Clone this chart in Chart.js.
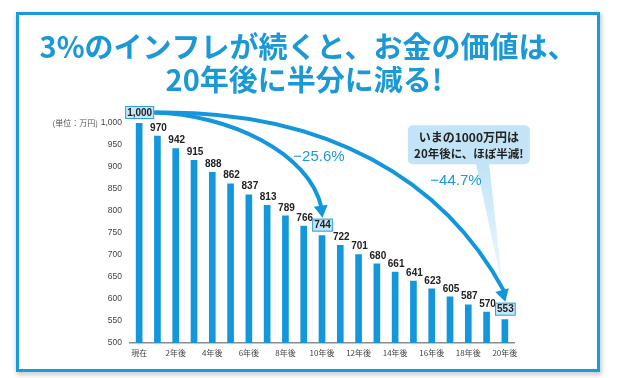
<!DOCTYPE html>
<html><head><meta charset="utf-8">
<script src="https://cdn.jsdelivr.net/npm/chart.js@4"></script>
<style>html,body{margin:0;padding:0;background:#fff}#wrap{position:relative;width:622px;height:378px}</style>
</head><body><div id="wrap"><canvas id="c" width="622" height="378"></canvas></div>
<script>
const titleLines = ['3%のインフレが続くと、お金の価値は、', '20年後に半分に減る!'];
const categories = ['現在','1年後','2年後','3年後','4年後','5年後','6年後','7年後','8年後','9年後','10年後',
  '11年後','12年後','13年後','14年後','15年後','16年後','17年後','18年後','19年後','20年後'];
const values = [1000, 970, 942, 915, 888, 862, 837, 813, 789, 766, 744, 722, 701, 680, 661, 641, 623, 605, 587, 570, 553];
const highlighted = [0, 10, 20];
const unitLabel = '(単位：万円)';
const arrowTargets = [10, 20];
const arrowLabels = ['−25.6%', '−44.7%'];
const calloutLines = ['いまの1000万円は', '20年後に、ほぼ半減!'];
const yMin = 500, yMax = 1000, yStep = 50;

const BLUE = '#1396dc';
const fmt = v => v.toLocaleString('en-US');

function boxFor(ctx, bar, i) {
  ctx.font = 'bold 10px "Liberation Sans", Arial, sans-serif';
  const t = fmt(values[i]);
  const w = ctx.measureText(t).width + 4;
  const h = 13;
  const cx = bar.x + 0.5, cy = bar.y - 10.5;
  return {t, x: cx - w / 2, y: cy - h / 2, w, h, cx, cy};
}

function arrowHead(ctx, tipX, tipY, angle, len, half) {
  ctx.save();
  ctx.translate(tipX, tipY);
  ctx.rotate(angle);
  ctx.beginPath();
  ctx.moveTo(0, 0);
  ctx.lineTo(-len, -half);
  ctx.lineTo(-len, half);
  ctx.closePath();
  ctx.fillStyle = BLUE;
  ctx.fill();
  ctx.restore();
}

const framePlugin = {
  id: 'frame',
  beforeDraw(chart) {
    const ctx = chart.ctx;
    ctx.save();
    ctx.fillStyle = '#fff';
    ctx.fillRect(0, 0, 622, 378);
    ctx.shadowColor = 'rgba(0,0,0,0.35)';
    ctx.shadowBlur = 5;
    ctx.shadowOffsetX = 1;
    ctx.shadowOffsetY = 2;
    ctx.strokeStyle = '#1a9ad9';
    ctx.lineWidth = 3;
    ctx.strokeRect(17.5, 13.5, 581, 357);
    ctx.shadowColor = 'transparent';
    ctx.fillStyle = '#fff';
    ctx.fillRect(19, 15, 578, 354);
    ctx.strokeRect(17.5, 13.5, 581, 357);
    // title
    ctx.fillStyle = '#1b98d6';
    ctx.font = 'bold 29px "Noto Sans CJK JP", sans-serif';
    ctx.textAlign = 'center';
    ctx.textBaseline = 'middle';
    ctx.fillText(titleLines[0], 308, 47);
    ctx.fillText(titleLines[1], 304, 80);
    ctx.restore();
  }
};

const annoPlugin = {
  id: 'anno',
  afterDatasetsDraw(chart) {
    const ctx = chart.ctx;
    const bars = chart.getDatasetMeta(0).data;
    const ys = chart.scales.y;
    ctx.save();
    // unit label
    ctx.fillStyle = '#555';
    ctx.font = '8px "Noto Sans CJK JP", sans-serif';
    ctx.textAlign = 'right';
    ctx.textBaseline = 'middle';
    ctx.fillText(unitLabel, 98, ys.getPixelForValue(yMax));

    // callout (behind arrows)
    const b20 = bars[20];
    const cl = b20.x - 97, cr = b20.x + 25, ct = ys.getPixelForValue(995), cb = ct + 39;
    const grad = ctx.createLinearGradient(0, cb, 0, cb + 130);
    grad.addColorStop(0, 'rgba(190,228,247,1)');
    grad.addColorStop(1, 'rgba(190,228,247,0.15)');
    ctx.fillStyle = grad;
    ctx.beginPath();
    ctx.moveTo(b20.x - 29, cb - 1);
    ctx.lineTo(b20.x - 16, cb - 1);
    ctx.lineTo(b20.x - 1, cb + 130);
    ctx.closePath();
    ctx.fill();
    ctx.fillStyle = '#c2e4f6';
    ctx.beginPath();
    ctx.roundRect(cl, ct, cr - cl, cb - ct, 5);
    ctx.fill();
    ctx.fillStyle = '#222';
    ctx.textAlign = 'center';
    ctx.font = 'bold 12px "Noto Sans CJK JP", sans-serif';
    ctx.fillText(calloutLines[0], (cl + cr) / 2, ct + 12);
    ctx.font = 'bold 11.5px "Noto Sans CJK JP", sans-serif';
    ctx.fillText(calloutLines[1], (cl + cr) / 2, ct + 28);

    // value labels
    bars.forEach((bar, i) => {
      if (highlighted.includes(i)) return;
      ctx.font = 'bold 10px "Liberation Sans", Arial, sans-serif';
      ctx.fillStyle = '#222';
      ctx.textAlign = 'center';
      ctx.textBaseline = 'middle';
      ctx.fillText(fmt(values[i]), bar.x + 1, bar.y - 8);
    });

    // arrows
    const b0 = boxFor(ctx, bars[0], 0);
    const sx = b0.x + b0.w, sy = b0.cy;
    ctx.strokeStyle = BLUE;
    ctx.lineWidth = 4;
    ctx.lineCap = 'butt';
    arrowTargets.forEach((ti, k) => {
      const bx = boxFor(ctx, bars[ti], ti);
      const tipX = bx.cx, tipY = bx.y - 1;
      const ex = tipX - 1, ey = tipY - 10;
      let c1x, c1y, c2x, c2y;
      if (k === 0) { c1x = sx + 75; c1y = sy + 2; c2x = ex - 12; c2y = ey - 55; }
      else { c1x = sx + 172; c1y = sy - 3; c2x = ex - 60; c2y = ey - 112; }
      ctx.beginPath();
      ctx.moveTo(sx, sy);
      ctx.bezierCurveTo(c1x, c1y, c2x, c2y, ex, ey);
      ctx.stroke();
      const ang = Math.atan2(tipY - c2y, tipX - c2x);
      arrowHead(ctx, tipX, tipY, Math.atan2(tipY - ey, tipX - ex) * 0.5 + ang * 0.5, 12, 7);
    });

    // percent labels
    ctx.fillStyle = '#1d97d8';
    ctx.font = '15px "Liberation Sans", Arial, sans-serif';
    ctx.textAlign = 'center';
    ctx.textBaseline = 'middle';
    ctx.fillText(arrowLabels[0], bars[10].x - 3, ys.getPixelForValue(922));
    ctx.fillText(arrowLabels[1], bars[17].x + 6, ys.getPixelForValue(869));

    // highlight boxes
    highlighted.forEach(i => {
      const bx = boxFor(ctx, bars[i], i);
      ctx.fillStyle = '#c6e7f8';
      ctx.fillRect(bx.x, bx.y, bx.w, bx.h);
      ctx.strokeStyle = '#2ea2e0';
      ctx.lineWidth = 1;
      ctx.strokeRect(bx.x + 0.5, bx.y + 0.5, bx.w - 1, bx.h - 1);
      ctx.fillStyle = '#222';
      ctx.textAlign = 'center';
      ctx.textBaseline = 'middle';
      ctx.fillText(bx.t, bx.cx, bx.cy + 0.5);
    });
    ctx.restore();
  }
};

new Chart(document.getElementById('c'), {
  type: 'bar',
  data: {
    labels: categories,
    datasets: [{ data: values, backgroundColor: BLUE, barThickness: 6, borderWidth: 0 }]
  },
  options: {
    responsive: false,
    animation: false,
    devicePixelRatio: 1,
    layout: { padding: { top: 123, bottom: 15, right: 108, left: 0 } },
    plugins: { legend: { display: false }, tooltip: { enabled: false }, title: { display: false } },
    scales: {
      x: {
        grid: { display: false, drawTicks: false },
        border: { display: true, color: '#8c8c8c', width: 1.5 },
        ticks: {
          autoSkip: false, maxRotation: 0, padding: 5, color: '#444',
          font: { size: 8, family: '"Noto Sans CJK JP", sans-serif' },
          callback: (v, i) => (i % 2 === 0 ? categories[i] : '')
        },
        afterFit: s => { s.height = 20; }
      },
      y: {
        min: yMin, max: yMax,
        grid: { display: false, drawTicks: false },
        border: { display: false },
        ticks: {
          stepSize: yStep, padding: 8, color: '#444',
          font: { size: 8.5, family: '"Liberation Sans", Arial, sans-serif' },
          callback: v => fmt(v)
        },
        afterFit: s => { s.width = 130; }
      }
    }
  },
  plugins: [framePlugin, annoPlugin]
});
</script>
</body></html>
